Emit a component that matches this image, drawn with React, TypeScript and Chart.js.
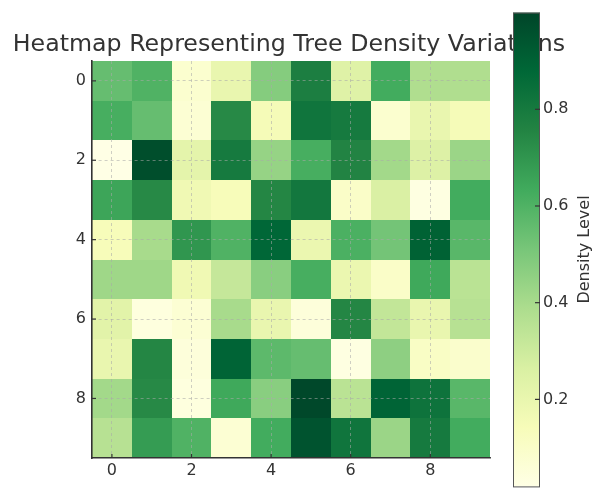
import React, { useEffect, useRef } from "react";
import { Chart, registerables } from "chart.js";

Chart.register(...registerables);

const TITLE = "Heatmap Representing Tree Density Variations";
const CBAR_LABEL = "Density Level";
const xCategories = [0, 1, 2, 3, 4, 5, 6, 7, 8, 9];
const yCategories = [0, 1, 2, 3, 4, 5, 6, 7, 8, 9];
const axisTicks = [0, 2, 4, 6, 8];
const cbarTicks = [0.2, 0.4, 0.6, 0.8];
const VMIN = 0.02;
const VMAX = 1.0;

const row0 = [0.55, 0.6, 0.08, 0.2, 0.48, 0.78, 0.24, 0.63, 0.38, 0.38];
const row1 = [0.62, 0.55, 0.07, 0.74, 0.15, 0.82, 0.8, 0.08, 0.2, 0.15];
const row2 = [0.02, 0.97, 0.22, 0.8, 0.44, 0.62, 0.76, 0.41, 0.25, 0.43];
const row3 = [0.65, 0.74, 0.17, 0.14, 0.75, 0.81, 0.1, 0.26, 0.03, 0.63];
const row4 = [0.14, 0.4, 0.7, 0.6, 0.88, 0.19, 0.61, 0.52, 0.9, 0.58];
const row5 = [0.42, 0.42, 0.17, 0.32, 0.47, 0.62, 0.19, 0.1, 0.64, 0.35];
const row6 = [0.23, 0.04, 0.07, 0.4, 0.2, 0.05, 0.75, 0.33, 0.2, 0.36];
const row7 = [0.2, 0.75, 0.05, 0.89, 0.57, 0.55, 0.03, 0.46, 0.11, 0.09];
const row8 = [0.41, 0.74, 0.04, 0.64, 0.47, 0.99, 0.35, 0.89, 0.83, 0.58];
const row9 = [0.36, 0.68, 0.6, 0.07, 0.63, 0.95, 0.82, 0.43, 0.8, 0.63];

const densityRows = [row0, row1, row2, row3, row4, row5, row6, row7, row8, row9];

const YLGN = ["#ffffe5", "#f7fcb9", "#d9f0a3", "#addd8e", "#78c679", "#41ab5d", "#238443", "#006837", "#004529"];

function hexToRgb(h: string) {
  return [parseInt(h.slice(1, 3), 16), parseInt(h.slice(3, 5), 16), parseInt(h.slice(5, 7), 16)];
}

function colorFor(v: number) {
  let t = (v - VMIN) / (VMAX - VMIN);
  t = Math.max(0, Math.min(1, t));
  const pos = t * (YLGN.length - 1);
  const i = Math.min(Math.floor(pos), YLGN.length - 2);
  const f = pos - i;
  const a = hexToRgb(YLGN[i]);
  const b = hexToRgb(YLGN[i + 1]);
  const c = a.map((av, k) => Math.round(av + (b[k] - av) * f));
  return `rgb(${c[0]},${c[1]},${c[2]})`;
}

const FONT = "'DejaVu Sans', sans-serif";
const TEXT = "#333333";

const heatPlugin = {
  id: "heatCells",
  beforeDatasetsDraw(chart: any) {
    const { ctx } = chart;
    const xs = chart.scales.x;
    const ys = chart.scales.y;
    ctx.save();
    densityRows.forEach((row, r) => {
      row.forEach((v, c) => {
        const x0 = Math.round(xs.getPixelForValue(xCategories[c] - 0.5));
        const x1 = Math.round(xs.getPixelForValue(xCategories[c] + 0.5));
        const y0 = Math.round(ys.getPixelForValue(yCategories[r] - 0.5));
        const y1 = Math.round(ys.getPixelForValue(yCategories[r] + 0.5));
        ctx.fillStyle = colorFor(v);
        ctx.fillRect(Math.min(x0, x1), Math.min(y0, y1), Math.abs(x1 - x0), Math.abs(y1 - y0));
      });
    });
    ctx.restore();
  },
  afterDraw(chart: any) {
    const { ctx, chartArea } = chart;
    const xs = chart.scales.x;
    const ys = chart.scales.y;
    ctx.save();
    ctx.strokeStyle = TEXT;
    ctx.lineWidth = 1.2;
    axisTicks.forEach((t) => {
      const px = xs.getPixelForValue(t);
      ctx.beginPath();
      ctx.moveTo(px, chartArea.bottom);
      ctx.lineTo(px, chartArea.bottom - 4);
      ctx.stroke();
      const py = ys.getPixelForValue(t);
      ctx.beginPath();
      ctx.moveTo(chartArea.left, py);
      ctx.lineTo(chartArea.left + 4, py);
      ctx.stroke();
    });
    ctx.fillStyle = TEXT;
    ctx.font = `23.7px ${FONT}`;
    ctx.textAlign = "center";
    ctx.textBaseline = "middle";
    ctx.fillText(TITLE, 289, 45);
    ctx.restore();
  },
};

const cbarPlugin = {
  id: "colorbar",
  beforeDatasetsDraw(chart: any) {
    const { ctx, chartArea } = chart;
    const ys = chart.scales.y;
    const yBottom = ys.getPixelForValue(VMIN);
    const yTop = ys.getPixelForValue(VMAX);
    const g = ctx.createLinearGradient(0, yBottom, 0, yTop);
    YLGN.forEach((c, i) => g.addColorStop(i / (YLGN.length - 1), c));
    ctx.save();
    ctx.fillStyle = g;
    ctx.fillRect(chartArea.left, yTop, chartArea.right - chartArea.left, yBottom - yTop);
    ctx.strokeStyle = "#555555";
    ctx.lineWidth = 1;
    ctx.strokeRect(chartArea.left + 0.5, yTop + 0.5, chartArea.right - chartArea.left - 1, yBottom - yTop);
    ctx.strokeStyle = TEXT;
    ctx.lineWidth = 1.2;
    cbarTicks.forEach((t) => {
      const py = ys.getPixelForValue(t);
      ctx.beginPath();
      ctx.moveTo(chartArea.right - 5, py);
      ctx.lineTo(chartArea.right, py);
      ctx.stroke();
    });
    ctx.restore();
  },
  afterDraw(chart: any) {
    const { ctx, chartArea } = chart;
    ctx.save();
    ctx.fillStyle = TEXT;
    ctx.font = `16px ${FONT}`;
    ctx.textAlign = "center";
    ctx.textBaseline = "middle";
    ctx.translate(105, (chartArea.top + chartArea.bottom) / 2);
    ctx.rotate(-Math.PI / 2);
    ctx.fillText(CBAR_LABEL, 0, 0);
    ctx.restore();
  },
};

export default function App() {
  const mainRef = useRef<HTMLCanvasElement>(null);
  const cbarRef = useRef<HTMLCanvasElement>(null);

  useEffect(() => {
    const tickFont = { family: FONT, size: 16 };
    const gridCommon = { color: "rgba(170,170,170,0.7)", lineWidth: 0.8, z: 1, drawTicks: false };
    const borderCommon = { display: true, color: "#333333", width: 1.6, dash: [3, 3], z: 2 };

    const main = new Chart(mainRef.current!, {
      type: "scatter",
      data: {
        datasets: [
          {
            data: densityRows.flatMap((row, r) => row.map((v, c) => ({ x: xCategories[c], y: yCategories[r] }))),
            pointRadius: 0,
          },
        ],
      },
      options: {
        responsive: false,
        animation: false,
        devicePixelRatio: 1,
        events: [],
        layout: { padding: { top: 61, right: 105, left: 0, bottom: 0 } },
        plugins: { legend: { display: false }, tooltip: { enabled: false }, title: { display: false } },
        scales: {
          x: {
            type: "linear",
            min: -0.5,
            max: 9.5,
            afterBuildTicks: (s: any) => {
              s.ticks = axisTicks.map((v) => ({ value: v }));
            },
            afterFit: (s: any) => {
              s.height = 41;
            },
            grid: gridCommon,
            border: borderCommon,
            ticks: { font: tickFont, color: TEXT, padding: 3, maxRotation: 0, autoSkip: false },
          },
          y: {
            type: "linear",
            reverse: true,
            min: -0.5,
            max: 9.5,
            afterBuildTicks: (s: any) => {
              s.ticks = axisTicks.map((v) => ({ value: v }));
            },
            afterFit: (s: any) => {
              s.width = 92;
            },
            grid: gridCommon,
            border: borderCommon,
            ticks: { font: tickFont, color: TEXT, padding: 6, autoSkip: false },
          },
        },
      } as any,
      plugins: [heatPlugin],
    });

    const cbar = new Chart(cbarRef.current!, {
      type: "scatter",
      data: { datasets: [] },
      options: {
        responsive: false,
        animation: false,
        devicePixelRatio: 1,
        events: [],
        layout: { padding: { top: 12, right: 0, left: 33, bottom: 2 } },
        plugins: { legend: { display: false }, tooltip: { enabled: false } },
        scales: {
          x: { display: false },
          y: {
            type: "linear",
            position: "right",
            min: VMIN,
            max: VMAX,
            afterBuildTicks: (s: any) => {
              s.ticks = cbarTicks.map((v) => ({ value: v }));
            },
            afterFit: (s: any) => {
              s.width = 55;
            },
            grid: { display: false, drawTicks: false },
            border: { display: false },
            ticks: {
              font: tickFont,
              color: TEXT,
              padding: 3,
              callback: (v: any) => Number(v).toFixed(1),
            },
          },
        },
      } as any,
      plugins: [cbarPlugin],
    });

    return () => {
      main.destroy();
      cbar.destroy();
    };
  }, []);

  return (
    <div
      style={{
        position: "fixed",
        left: 0,
        top: 0,
        width: 595,
        height: 499,
        overflow: "hidden",
        background: "#ffffff",
      }}
    >
      <canvas ref={mainRef} width={595} height={499} style={{ position: "absolute", left: 0, top: 0 }} />
      <canvas ref={cbarRef} width={115} height={499} style={{ position: "absolute", left: 480, top: 0 }} />
    </div>
  );
}
